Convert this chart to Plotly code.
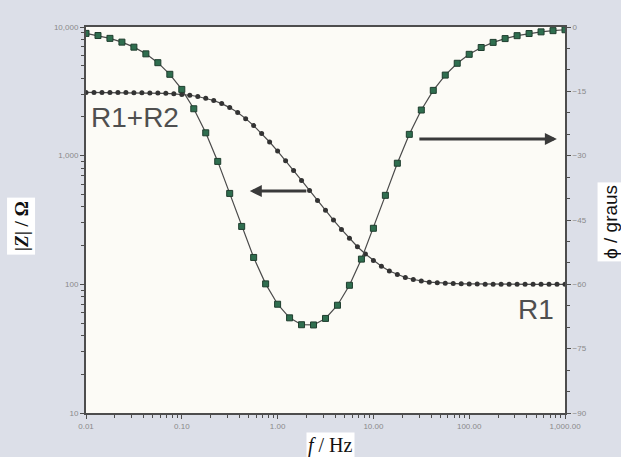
import plotly.graph_objects as go

# |Z| curve (12 points per decade, 0.01 Hz .. 1000 Hz)
freq_mag = [0.01, 0.01212, 0.01468, 0.01778, 0.02154, 0.02610, 0.03162, 0.03831, 0.04642, 0.05623,
            0.06813, 0.08254, 0.1, 0.1212, 0.1468, 0.1778, 0.2154, 0.2610, 0.3162, 0.3831,
            0.4642, 0.5623, 0.6813, 0.8254, 1.0, 1.212, 1.468, 1.778, 2.154, 2.610,
            3.162, 3.831, 4.642, 5.623, 6.813, 8.254, 10.0, 12.12, 14.68, 17.78,
            21.54, 26.10, 31.62, 38.31, 46.42, 56.23, 68.13, 82.54, 100.0, 121.2,
            146.8, 177.8, 215.4, 261.0, 316.2, 383.1, 464.2, 562.3, 681.3, 825.4, 1000.0]
z_mag = [3099, 3098, 3098, 3096, 3095, 3092, 3089, 3084, 3076, 3065,
         3049, 3026, 2994, 2948, 2884, 2797, 2683, 2538, 2363, 2161,
         1940, 1712, 1488, 1277, 1085, 915, 768, 642, 537, 448,
         376, 316, 267, 228, 196, 172, 153, 138, 127, 119,
         113, 109, 106, 104, 103, 102, 101.4, 101.0, 100.7, 100.45,
         100.31, 100.21, 100.14, 100.10, 100.07, 100.05, 100.03, 100.02, 100.01, 100.01, 100.0]

# phase curve (8 points per decade)
freq_ph = [0.01, 0.01334, 0.01778, 0.02371, 0.03162, 0.04217, 0.05623, 0.07499, 0.1, 0.1334,
           0.1778, 0.2371, 0.3162, 0.4217, 0.5623, 0.7499, 1.0, 1.334, 1.778, 2.371,
           3.162, 4.217, 5.623, 7.499, 10.0, 13.34, 17.78, 23.71, 31.62, 42.17,
           56.23, 74.99, 100.0, 133.4, 177.8, 237.1, 316.2, 421.7, 562.3, 749.9, 1000.0]
phase = [-1.49, -1.99, -2.65, -3.53, -4.70, -6.26, -8.32, -11.03, -14.55, -19.06,
         -24.67, -31.34, -38.80, -46.50, -53.73, -59.89, -64.64, -67.81, -69.42, -69.47,
         -67.95, -64.87, -60.22, -54.12, -46.93, -39.25, -31.76, -25.03, -19.36, -14.78,
         -11.21, -8.46, -6.37, -4.78, -3.59, -2.70, -2.02, -1.52, -1.13, -0.85, -0.64]

x_tickvals = [0.01, 0.1, 1, 10, 100, 1000]
x_ticktext = ["0.01", "0.10", "1.00", "10.00", "100.00", "1,000.00"]
y_tickvals = [10, 100, 1000, 10000]
y_ticktext = ["10", "100", "1,000", "10,000"]
y2_tickvals = [0, -15, -30, -45, -60, -75, -90]

AX = "#4d4d4d"
TICKFONT = dict(family="Liberation Sans, Arial, sans-serif", size=8, color="#8a8a8a")

fig = go.Figure()
fig.add_trace(go.Scatter(
    x=freq_mag, y=z_mag, mode="lines+markers", yaxis="y",
    line=dict(color="#4a4a4a", width=1.2),
    marker=dict(size=5, color="#333333"),
    showlegend=False, hoverinfo="skip"))
fig.add_trace(go.Scatter(
    x=freq_ph, y=phase, mode="lines+markers", yaxis="y2",
    line=dict(color="#4a4a4a", width=1.2),
    marker=dict(size=6, color="#2f6e4f", symbol="square",
                line=dict(color="#1f3d2e", width=1)),
    showlegend=False, hoverinfo="skip"))

fig.update_layout(
    width=621, height=457,
    margin=dict(l=86, r=56, t=27, b=44),
    paper_bgcolor="#dcdfe8",
    plot_bgcolor="#fcfbf6",
    xaxis=dict(type="log", range=[-2, 3], tickmode="array",
               tickvals=x_tickvals, ticktext=x_ticktext,
               showline=True, linecolor=AX, linewidth=2, mirror=True,
               ticks="outside", ticklen=4, tickcolor=AX, showgrid=False, zeroline=False,
               tickfont=TICKFONT,
               minor=dict(ticks="outside", ticklen=3, tickcolor=AX, dtick="D1", showgrid=False)),
    yaxis=dict(type="log", range=[1, 4], tickmode="array",
               tickvals=y_tickvals, ticktext=y_ticktext,
               showline=True, linecolor=AX, linewidth=2,
               ticks="outside", ticklen=4, tickcolor=AX, showgrid=False, zeroline=False,
               tickfont=TICKFONT,
               minor=dict(ticks="outside", ticklen=3, tickcolor=AX, dtick="D1", showgrid=False)),
    yaxis2=dict(overlaying="y", side="right", range=[-90, 0], tickmode="array",
                tickvals=y2_tickvals,
                showline=True, linecolor=AX, linewidth=2,
                ticks="outside", ticklen=4, tickcolor=AX, showgrid=False, zeroline=False,
                tickfont=TICKFONT,
                minor=dict(ticks="outside", ticklen=3, tickcolor=AX, dtick=5, showgrid=False)),
)

annotations = [
    # axis titles in white boxes
    dict(text="<b>|<i>Z</i>| / Ω</b>", xref="paper", yref="paper", x=-0.135, y=0.485,
         xanchor="center", yanchor="middle",
         textangle=-90, showarrow=False, bgcolor="white", borderpad=3,
         font=dict(family="Liberation Serif, Times New Roman, serif", size=19, color="#111111")),
    dict(text="ϕ / graus", xref="paper", yref="paper", x=1.096, y=0.495,
         xanchor="center", yanchor="middle",
         textangle=-90, showarrow=False, bgcolor="white", borderpad=2,
         font=dict(family="Liberation Sans, Arial, sans-serif", size=19, color="#111111")),
    dict(text="<i>f</i> / Hz", xref="paper", yref="paper", x=0.51, y=-0.083,
         xanchor="center", yanchor="middle", showarrow=False, bgcolor="white", borderpad=1,
         font=dict(family="Liberation Serif, Times New Roman, serif", size=20, color="#111111")),
    # curve labels
    dict(text="R1+R2", xref="paper", yref="paper", x=0.102, y=0.765, showarrow=False,
         xanchor="center", yanchor="middle",
         font=dict(family="Liberation Sans Narrow, Liberation Sans, Arial, sans-serif", size=28, color="#4f4f4f")),
    dict(text="R1", xref="paper", yref="paper", x=0.939, y=0.267, showarrow=False,
         xanchor="center", yanchor="middle",
         font=dict(family="Liberation Sans Narrow, Liberation Sans, Arial, sans-serif", size=28, color="#4f4f4f")),
    # arrows
    dict(text="", xref="paper", yref="paper", x=0.342, y=0.575, ax=58, ay=0,
         showarrow=True, arrowhead=2, arrowsize=0.8, arrowwidth=3, arrowcolor="#3a3a3a"),
    dict(text="", xref="paper", yref="paper", x=0.983, y=0.710, ax=-139, ay=0,
         showarrow=True, arrowhead=2, arrowsize=0.8, arrowwidth=3, arrowcolor="#3a3a3a"),
]
fig.update_layout(annotations=annotations)

fig.write_html("out.html")
